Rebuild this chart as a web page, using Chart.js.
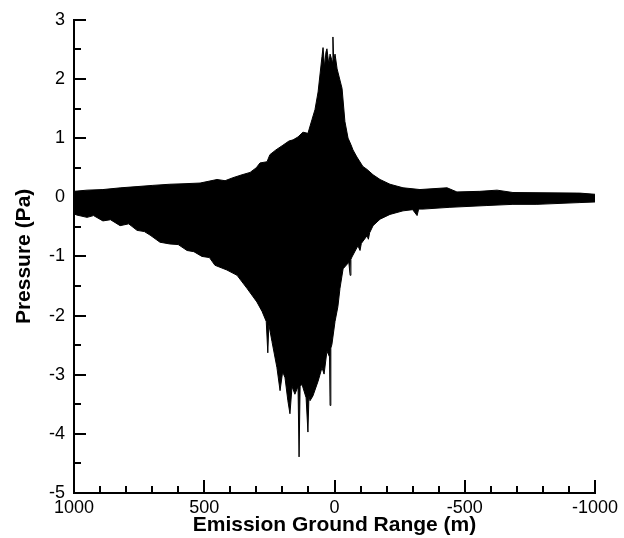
<!DOCTYPE html>
<html>
<head>
<meta charset="utf-8">
<script src="https://cdn.jsdelivr.net/npm/chart.js"></script>
<style>
  html, body { margin: 0; padding: 0; background: #fff; }
</style>
</head>
<body>
<canvas id="myChart" width="624" height="538"></canvas>
<script>
// Envelope of the pressure trace (range in m, pressure in Pa).
var upperRange = [1000, 950, 889, 820, 758, 700, 632, 570, 516, 451, 420, 390, 355, 324, 300, 286, 259, 248, 225, 198, 175, 159, 140, 121, 102, 86, 75, 63,
  48, 44, 38, 33, 29, 22, 17, 9, 6, 3, -2, -10, -29, -40, -52, -63, -71, -86, -109, -125, -148, -175,
  -213, -263, -328, -432, -470, -558, -624, -685, -942, -1000];
var upperPressure = [0.10, 0.12, 0.13, 0.16, 0.18, 0.20, 0.22, 0.23, 0.24, 0.30, 0.28, 0.33, 0.38, 0.42, 0.50, 0.58, 0.60, 0.72, 0.80, 0.88, 0.95, 0.97, 1.02, 1.10, 1.08, 1.32, 1.48, 1.78,
  2.38, 2.53, 2.20, 2.45, 2.51, 2.25, 2.42, 2.30, 2.71, 2.30, 2.42, 2.17, 1.84, 1.28, 1.00, 0.89, 0.80, 0.68, 0.52, 0.47, 0.38, 0.30,
  0.22, 0.16, 0.13, 0.16, 0.09, 0.10, 0.12, 0.08, 0.07, 0.05];

var lowerRange = [1000, 990, 950, 925, 889, 860, 823, 790, 758, 730, 708, 670, 632, 600, 566, 540, 509, 480,
  459, 413, 374, 336, 298, 278, 262, 256, 252, 240, 221, 209, 199, 190, 179, 171, 163, 152, 140, 136, 132,
  125, 109, 102, 98, 94, 83, 63, 48, 40, 29, 19, 17, 14, 10, -2, -13, -21, -33, -55, -60, -63, -67, -90,
  -98, -103, -125, -130, -135, -148, -175, -213, -263, -300, -317, -323, -340, -443, -585, -685, -777, -942, -1000];
var lowerPressure = [-0.28, -0.30, -0.34, -0.31, -0.40, -0.38, -0.48, -0.45, -0.56, -0.58, -0.64, -0.76, -0.79, -0.80, -0.90, -0.92, -1.00, -1.02,
  -1.15, -1.23, -1.32, -1.54, -1.77, -1.93, -2.10, -2.63, -2.15, -2.44, -2.88, -3.27, -2.95, -3.05, -3.44, -3.66, -3.20, -3.33, -3.20, -4.39, -3.20,
  -3.16, -3.39, -3.97, -3.35, -3.44, -3.36, -3.11, -2.88, -2.99, -2.60, -2.70, -3.52, -2.55, -2.49, -2.10, -1.85, -1.54, -1.21, -1.10, -1.32, -1.05, -1.01, -0.82,
  -0.90, -0.78, -0.65, -0.71, -0.60, -0.48, -0.37, -0.29, -0.23, -0.21, -0.31, -0.20, -0.20, -0.17, -0.14, -0.12, -0.12, -0.09, -0.08];

var xMajorTicks = [1000, 500, 0, -500, -1000];
var yMajorTicks = [3, 2, 1, 0, -1, -2, -3, -4, -5];

function toPoints(xs, ys) {
  return xs.map(function (x, i) { return { x: x, y: ys[i] }; });
}

// Tecplot style ticks: drawn inward from the left and bottom axis lines.
var inwardTicks = {
  id: 'inwardTicks',
  afterDraw: function (chart) {
    var c = chart.ctx, area = chart.chartArea;
    var xs = chart.scales.x, ys = chart.scales.y;
    c.save();
    c.strokeStyle = '#000';
    c.lineWidth = 2;
    c.beginPath();
    xs.ticks.forEach(function (t) {
      var px = Math.round(xs.getPixelForValue(t.value));
      var len = xMajorTicks.indexOf(t.value) >= 0 ? 13 : 7;
      c.moveTo(px, area.bottom);
      c.lineTo(px, area.bottom - len);
    });
    ys.ticks.forEach(function (t) {
      var py = Math.round(ys.getPixelForValue(t.value));
      var len = yMajorTicks.indexOf(t.value) >= 0 ? 12 : 7;
      c.moveTo(area.left, py);
      c.lineTo(area.left + len, py);
    });
    c.stroke();
    c.restore();
  }
};

var font = 'Liberation Sans, Arial, Helvetica, sans-serif';

var ctx = document.getElementById('myChart');
var myChart = new Chart(ctx, {
  type: 'line',
  data: {
    datasets: [{
      // upper edge, filled down to the lower edge
      data: toPoints(upperRange, upperPressure),
      borderColor: '#000',
      backgroundColor: '#000',
      borderWidth: 1,
      pointRadius: 0,
      fill: '+1'
    }, {
      data: toPoints(lowerRange, lowerPressure),
      borderColor: '#000',
      backgroundColor: '#000',
      borderWidth: 1,
      pointRadius: 0,
      fill: false
    }]
  },
  options: {
    responsive: false,
    animation: false,
    layout: { padding: { top: 15, right: 29, left: 0, bottom: 0 } },
    plugins: { legend: { display: false }, tooltip: { enabled: false } },
    scales: {
      x: {
        type: 'linear',
        reverse: true,
        min: -1000,
        max: 1000,
        afterFit: function (scale) { scale.height = 45; },
        grid: { display: false, drawTicks: false },
        border: { display: true, color: '#000', width: 2 },
        ticks: {
          stepSize: 100,
          autoSkip: false,
          maxRotation: 0,
          padding: 4,
          color: '#000',
          font: { family: font, size: 18 },
          callback: function (v) { return xMajorTicks.indexOf(v) >= 0 ? String(v) : ''; }
        },
        title: {
          display: true,
          text: 'Emission Ground Range (m)',
          color: '#000',
          font: { family: font, size: 21, weight: 'bold' },
          padding: { top: 0, bottom: 0 }
        }
      },
      y: {
        min: -5,
        max: 3,
        afterFit: function (scale) { scale.width = 74; },
        grid: { display: false, drawTicks: false },
        border: { display: true, color: '#000', width: 2 },
        ticks: {
          stepSize: 0.5,
          autoSkip: false,
          padding: 9,
          color: '#000',
          font: { family: font, size: 18 },
          callback: function (v) { return yMajorTicks.indexOf(v) >= 0 ? String(v) : ''; }
        },
        title: {
          display: true,
          text: 'Pressure (Pa)',
          color: '#000',
          font: { family: font, size: 21, weight: 'bold' },
          padding: { top: 12, bottom: 0 }
        }
      }
    }
  },
  plugins: [inwardTicks]
});
</script>
</body>
</html>
